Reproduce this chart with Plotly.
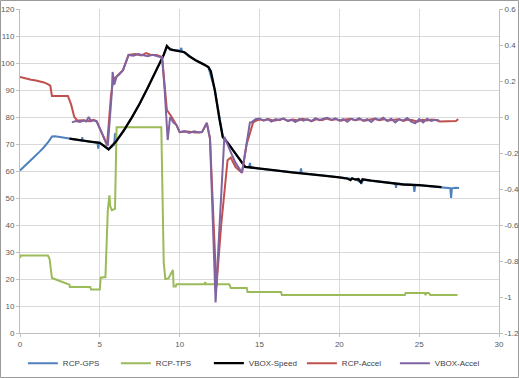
import plotly.graph_objects as go

# ---------------- data ----------------
gps_t = [0.0, 0.3, 0.6, 0.9, 1.2, 1.5, 1.8, 2.0, 2.2, 2.6, 3.0, 3.5, 3.88, 3.9, 3.92, 4.4, 4.85, 4.9, 4.95,
         5.3, 5.55, 5.9, 5.95, 6.0, 6.5, 7.0, 7.5, 8.0, 8.5, 9.0, 9.2, 9.6, 10.05, 10.1, 10.15, 10.6, 11.0,
         11.5, 11.8, 12.2, 12.5, 12.7, 13.0, 13.5, 14.1, 14.35, 14.4, 14.45, 15.0, 15.6, 16.0, 17.0, 17.55,
         17.6, 17.65, 18.0, 19.0, 20.0, 21.0, 21.4, 21.5, 22.0, 23.0, 23.5, 23.55, 23.6, 24.0, 24.65, 24.7,
         24.75, 25.0, 25.5, 26.0, 26.4, 26.7, 26.95, 27.0, 27.05, 27.3, 27.5]
gps_v = [60.2, 61.8, 63.5, 65.3, 67.0, 68.8, 71.0, 72.8, 72.9, 72.5, 72.0, 71.6, 71.3, 72.6, 71.3, 70.8, 70.5, 68.3, 70.4,
         69.2, 68.1, 69.8, 74.0, 70.8, 75.0, 79.8, 85.0, 90.8, 96.8, 103.0, 106.0, 104.8, 104.6, 105.6, 104.4, 102.5, 101.0,
         99.5, 98.4, 90.0, 79.0, 72.6, 70.5, 66.5, 61.5, 61.4, 63.0, 61.3, 61.0, 60.4, 60.2, 59.6, 59.3,
         61.0, 59.2, 59.0, 58.3, 57.6, 57.0, 55.5, 56.8, 56.4, 55.8, 55.4, 53.8, 55.3, 55.1, 54.8, 52.3,
         54.7, 54.7, 54.4, 54.2, 54.0, 53.8, 53.6, 50.0, 53.6, 53.8, 53.7]

tps_t = [0.0, 0.05, 1.75, 1.85, 2.0, 2.3, 2.7, 3.1, 3.12, 4.4, 4.45, 5.0, 5.05, 5.35, 5.4, 5.5, 5.6, 5.65,
         5.75, 5.95, 6.05, 8.85, 8.95, 9.0, 9.1, 9.3, 9.5, 9.58, 9.62, 9.75, 9.8, 11.55, 11.6, 11.65, 13.1,
         13.2, 14.2, 14.25, 16.35, 16.4, 24.1, 24.15, 25.35, 25.4, 25.45, 25.6, 25.7, 27.4]
tps_v = [27.8, 28.7, 28.7, 27.5, 20.4, 19.8, 18.8, 17.9, 17.0, 17.0, 16.1, 16.1, 20.5, 20.7, 31.0, 45.5, 51.0, 47.0,
         45.5, 46.0, 76.2, 76.2, 43.0, 26.3, 20.0, 20.2, 22.5, 23.3, 17.2, 17.2, 18.1, 18.1, 18.8, 18.1, 18.1,
         16.7, 16.7, 15.2, 15.2, 14.1, 14.1, 14.8, 14.8, 14.0, 14.8, 14.8, 14.1, 14.1]

vbox_t = [3.1, 3.5, 4.0, 4.5, 5.0, 5.3, 5.55, 6.0, 6.5, 7.0, 7.5, 8.0, 8.5, 9.0, 9.2, 9.4, 9.6, 10.0, 10.3,
          10.6, 11.0, 11.5, 11.8, 11.95, 12.2, 12.5, 12.7, 13.0, 13.5, 14.1, 14.5, 15.0, 15.6, 16.0, 17.0,
          18.0, 19.0, 20.0, 20.5, 20.7, 20.8, 21.0, 21.2, 21.35, 21.45, 22.0, 23.0, 24.0, 25.0, 26.0, 26.4]
vbox_v = [72.0, 71.6, 71.2, 70.8, 70.4, 69.2, 68.0, 70.8, 75.0, 79.8, 85.0, 90.8, 96.8, 103.0, 106.3, 105.0, 104.8,
          104.5, 104.0, 102.5, 101.0, 99.5, 98.5, 97.0, 90.0, 79.0, 72.6, 70.5, 66.5, 61.5, 61.3, 61.0, 60.4, 60.2,
          59.5, 59.0, 58.3, 57.6, 57.2, 56.6, 57.3, 56.8, 57.0, 55.8, 56.9, 56.4, 55.8, 55.0, 54.8, 54.2, 54.0]

rcpacc_t = [0.0, 0.3, 0.5, 0.7, 1.0, 1.2, 1.5, 1.8, 1.9, 2.0, 3.0, 3.2, 3.4, 3.6, 4.0, 4.3, 4.6, 4.8, 5.45,
            5.7, 5.85, 6.05, 6.45, 6.8, 7.2, 7.6, 7.9, 8.2, 8.55, 8.9, 9.06, 9.2, 9.5, 9.8, 10.0, 10.5, 11.0,
            11.4, 11.7, 11.9, 12.3, 12.6, 13.0, 13.2, 13.5, 13.9, 14.2, 14.6, 14.8, 15.0, 15.3, 15.6, 15.9,
            16.2, 16.5, 16.8, 17.1, 17.4, 17.7, 18.0, 18.3, 18.6, 18.9, 19.2, 19.5, 19.8, 20.1, 20.4, 20.7,
            21.0, 21.3, 21.6, 21.9, 22.2, 22.5, 22.8, 23.1, 23.4, 23.7, 24.0, 24.3, 24.6, 24.9, 25.2, 25.5,
            25.8, 26.1, 26.3, 27.0, 27.3, 27.45]
rcpacc_v = [0.222, 0.215, 0.213, 0.207, 0.203, 0.198, 0.192, 0.180, 0.173, 0.117, 0.117, 0.07, 0.0, -0.02, -0.018,
            -0.024, -0.016, -0.022, -0.158, 0.12, 0.21, 0.225, 0.26, 0.345, 0.35, 0.342, 0.355, 0.345, 0.345,
            0.333, 0.15, 0.039, 0.0, -0.045, -0.084, -0.08, -0.086, -0.084, -0.033, -0.12, -0.945, -0.6, -0.24,
            -0.225, -0.278, -0.31, -0.15, -0.03, -0.02, -0.014, -0.018, -0.012, -0.02, -0.015, -0.01, -0.022,
            -0.014, -0.02, -0.01, -0.016, -0.022, -0.012, -0.018, -0.008, -0.016, -0.012, -0.02, -0.014, -0.01,
            -0.018, -0.012, -0.02, -0.014, -0.01, -0.018, -0.012, -0.02, -0.016, -0.012, -0.022, -0.014, -0.018,
            -0.026, -0.016, -0.02, -0.014, -0.018, -0.025, -0.025, -0.022, -0.012]

vboxacc_t = [3.25, 3.5, 3.75, 4.0, 4.15, 4.3, 4.45, 4.6, 4.8, 5.5, 5.75, 5.8, 5.9, 6.05, 6.2, 6.45, 6.8, 7.1,
             7.4, 7.7, 8.0, 8.3, 8.6, 8.9, 9.06, 9.25, 9.4, 9.6, 9.8, 10.0, 10.3, 10.6, 10.9, 11.2, 11.4, 11.7,
             11.9, 12.25, 12.5, 12.8, 13.2, 13.5, 13.9, 14.4, 14.5, 14.75, 15.0, 15.25, 15.5, 15.75, 16.0, 16.25,
             16.5, 16.75, 17.0, 17.25, 17.5, 17.75, 18.0, 18.25, 18.5, 18.75, 19.0, 19.25, 19.5, 19.75, 20.0,
             20.25, 20.5, 20.75, 21.0, 21.25, 21.5, 21.75, 22.0, 22.25, 22.5, 22.75, 23.0, 23.25, 23.5, 23.75,
             24.0, 24.25, 24.5, 24.75, 25.0, 25.25, 25.5, 25.75, 26.0, 26.25]
vboxacc_v = [-0.03, -0.022, -0.028, -0.02, -0.025, 0.0, -0.024, -0.018, -0.025, -0.16, 0.135, 0.25, 0.18, 0.225,
             0.235, 0.26, 0.345, 0.34, 0.35, 0.344, 0.338, 0.346, 0.336, 0.33, 0.15, -0.128, 0.0, -0.03, -0.045,
             -0.084, -0.078, -0.088, -0.08, -0.086, -0.084, -0.033, -0.12, -1.03, -0.6, -0.11, -0.195, -0.255,
             -0.31, -0.03, -0.03, -0.012, -0.008, -0.02, -0.01, -0.025, -0.012, -0.018, -0.008, -0.022, -0.015,
             -0.028, -0.01, -0.02, -0.012, -0.024, -0.006, -0.018, -0.01, -0.004, -0.016, -0.008, -0.02, -0.012,
             -0.026, -0.01, -0.018, -0.006, -0.022, -0.012, -0.028, -0.008, -0.016, -0.004, -0.022, -0.01, -0.03,
             -0.012, -0.02, -0.006, -0.026, -0.035, -0.012, -0.03, -0.01, -0.022, -0.015, -0.02]

x_ticks = [0, 5, 10, 15, 20, 25, 30]
y_ticks = [0, 10, 20, 30, 40, 50, 60, 70, 80, 90, 100, 110, 120]
y2_ticks = [0.6, 0.4, 0.2, 0, -0.2, -0.4, -0.6, -0.8, -1, -1.2]
y2_labels = ["0.6", "0.4", "0.2", "0", "-0.2", "-0.4", "-0.6", "-0.8", "-1", "-1.2"]

# ---------------- figure ----------------
fig = go.Figure()
fig.add_trace(go.Scatter(x=gps_t, y=gps_v, name="RCP-GPS", mode="lines",
                         line=dict(color="#4F81BD", width=2)))
fig.add_trace(go.Scatter(x=tps_t, y=tps_v, name="RCP-TPS", mode="lines",
                         line=dict(color="#9BBB59", width=2)))
fig.add_trace(go.Scatter(x=vbox_t, y=vbox_v, name="VBOX-Speed", mode="lines",
                         line=dict(color="#000000", width=2.3)))
fig.add_trace(go.Scatter(x=rcpacc_t, y=rcpacc_v, name="RCP-Accel", mode="lines", yaxis="y2",
                         line=dict(color="#C0504D", width=2)))
fig.add_trace(go.Scatter(x=vboxacc_t, y=vboxacc_v, name="VBOX-Accel", mode="lines", yaxis="y2",
                         line=dict(color="#8064A2", width=2)))

axis_font = dict(family="Liberation Sans, Arial, sans-serif", size=8, color="#595959")
fig.update_layout(
    width=519, height=378,
    margin=dict(l=20, r=20, t=9, b=45, autoexpand=False),
    paper_bgcolor="white", plot_bgcolor="white",
    showlegend=True,
    legend=dict(orientation="h", x=0.006, xanchor="left", y=-0.093, yanchor="middle",
                font=dict(family="Liberation Sans, Arial, sans-serif", size=8, color="#404040"),
                entrywidth=48, entrywidthmode="pixels", bgcolor="rgba(0,0,0,0)",
                itemwidth=30, tracegroupgap=0),
    xaxis=dict(range=[0, 30], tickvals=x_ticks, showgrid=True, gridcolor="#d9d9d9", gridwidth=1,
               showline=True, linecolor="#bfbfbf", ticks="outside", ticklen=3, tickcolor="#bfbfbf",
               zeroline=False, tickfont=axis_font, automargin=False),
    yaxis=dict(range=[0, 120], tickvals=y_ticks, showgrid=True, gridcolor="#d9d9d9", gridwidth=1,
               showline=True, linecolor="#bfbfbf", ticks="outside", ticklen=3, tickcolor="#bfbfbf",
               zeroline=False, tickfont=axis_font, automargin=False),
    yaxis2=dict(range=[-1.2, 0.6], overlaying="y", side="right", tickvals=y2_ticks, ticktext=y2_labels,
                showgrid=False, showline=True, linecolor="#bfbfbf", ticks="outside", ticklen=3,
                tickcolor="#bfbfbf", zeroline=False, tickfont=axis_font, automargin=False),
    shapes=[dict(type="rect", xref="paper", yref="paper",
                 x0=(0.5 - 20) / 479, x1=(518.5 - 20) / 479,
                 y0=(333 - 377.5) / 324, y1=(333 - 0.5) / 324,
                 line=dict(color="#9a9a9a", width=1), fillcolor="rgba(0,0,0,0)", layer="below")],
)

fig.write_html("out.html", config={"displayModeBar": False},
               post_script="document.body.style.margin='0';document.body.style.overflow='hidden';")
